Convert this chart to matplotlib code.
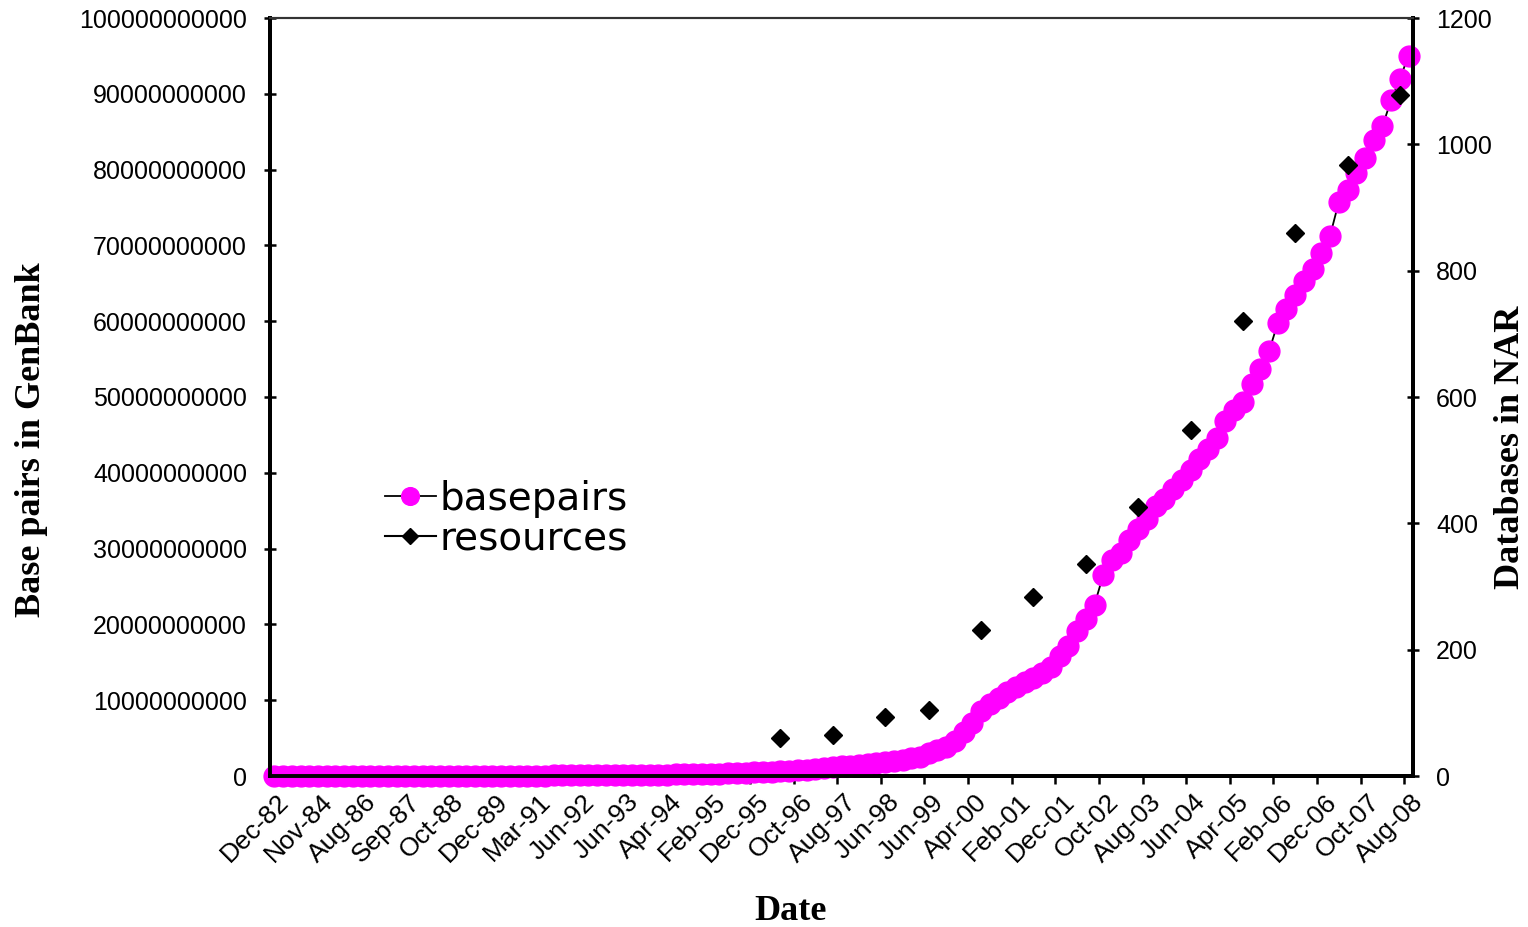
import matplotlib
matplotlib.use('Agg')
import matplotlib.pyplot as plt
import numpy as np
from matplotlib.ticker import FuncFormatter

# ---------------- data ----------------
tick_labels = ['Dec-82', 'Nov-84', 'Aug-86', 'Sep-87', 'Oct-88', 'Dec-89', 'Mar-91',
               'Jun-92', 'Jun-93', 'Apr-94', 'Feb-95', 'Dec-95', 'Oct-96', 'Aug-97',
               'Jun-98', 'Jun-99', 'Apr-00', 'Feb-01', 'Dec-01', 'Oct-02', 'Aug-03',
               'Jun-04', 'Apr-05', 'Feb-06', 'Dec-06', 'Oct-07', 'Aug-08']
label_every = 5  # one date label every 5 releases

# GenBank base pairs per release (billions), one value per release category
basepairs_billion = [
    0.00068, 0.00227, 0.00300, 0.00332, 0.00337, 0.00369, 0.00421, 0.00520, 0.00593, 0.00677,
    0.00844, 0.00962, 0.01096, 0.01305, 0.01486, 0.01551, 0.01675, 0.01916, 0.02080, 0.02202,
    0.02380, 0.02469, 0.02638, 0.03181, 0.03476, 0.03718, 0.04013, 0.04250, 0.04918, 0.05131,
    0.05517, 0.06587, 0.07195, 0.07734, 0.08389, 0.09216, 0.10101, 0.12024, 0.12621, 0.12997,
    0.13890, 0.14722, 0.15715, 0.16380, 0.18059, 0.19139, 0.20182, 0.21710, 0.23049, 0.24850,
    0.28609, 0.31862, 0.35371, 0.38494, 0.42586, 0.46376, 0.49913, 0.55175, 0.60207, 0.65197,
    0.73055, 0.84286, 0.96699, 1.05347, 1.16030, 1.25829, 1.37237, 1.43365, 1.56958, 1.70231,
    1.79714, 2.00876, 2.16207, 2.36570, 2.56958, 2.97545, 3.44000, 3.84116, 4.65393, 5.80541,
    7.00000, 8.60422, 9.54572, 10.33569, 11.10107, 11.72012, 12.41854, 12.97371, 13.54336, 14.39688,
    15.84992, 17.08914, 19.07268, 20.64875, 22.61694, 26.52593, 28.50799, 29.35808, 31.09926, 32.52825,
    33.86502, 35.59962, 36.55337, 37.89384, 38.98934, 40.32532, 41.80805, 43.19460, 44.57575, 46.84983,
    48.23574, 49.39885, 51.67449, 53.65524, 56.03773, 59.75039, 61.58214, 63.41261, 65.36909, 66.92594,
    69.01929, 71.29221, 75.74204, 77.24869, 79.52556, 81.56340, 83.87418, 85.75959, 89.17235, 92.00861,
    95.03379]

# NAR database counts (right axis), at the release categories where they occur
resource_idx = [58, 64, 70, 75, 81, 87, 93, 99, 105, 111, 117, 123, 129]
resource_counts = [60, 65, 93, 104, 231, 283, 336, 426, 548, 720, 860, 967, 1078]

# ---------------- figure ----------------
W, H = 1528, 927
fig = plt.figure(figsize=(W / 100, H / 100), dpi=100)
fig.patch.set_facecolor('white')
L, R, T, B = 270, 1413, 18, 776
ax = fig.add_axes([L / W, 1 - B / H, (R - L) / W, (B - T) / H])

n = len(basepairs_billion)
x = np.arange(n)
bp = np.array(basepairs_billion) * 1e9

ax.plot(x, bp, color='black', lw=1.3, marker='o', ms=15,
        mfc='#FF00FF', mec='#FF00FF', clip_on=False, zorder=3, label='basepairs')

ax.set_ylim(0, 1e11)
ax.set_yticks(np.arange(0, 1e11 + 1, 1e10))
ax.yaxis.set_major_formatter(FuncFormatter(lambda v, p: f'{int(round(v))}'))

tick_font = dict(family='Liberation Sans', size=18)
for lab in ax.get_yticklabels():
    lab.set_fontproperties(tick_font)
ax.tick_params(axis='y', which='major', direction='inout', length=9, width=1.8, pad=12)

# date labels: one per 5 release categories
label_pos = x[::label_every] + 0.3
ax.set_xticks(label_pos)
ax.set_xticklabels(tick_labels, rotation=45, ha='right', rotation_mode='anchor',
                   va='top', family='Liberation Sans', size=19)
ax.set_xticks(np.arange(-0.5, n - 1, label_every), minor=True)
ax.tick_params(axis='x', which='major', length=0, pad=10)
ax.tick_params(axis='x', which='minor', direction='out', length=6, width=1.8)
ax.set_xlim(-0.5, n - 0.5)

for s in ['left', 'bottom', 'right']:
    ax.spines[s].set_linewidth(2.8)
ax.spines['top'].set_linewidth(1.5)
ax.spines['top'].set_color('#333333')

ax2 = ax.twinx()
res = np.full(n, np.nan)
res[resource_idx] = resource_counts
ax2.plot(x, res, color='black', lw=1.5, marker='D', ms=9.5, mfc='black', mec='black',
         clip_on=False, zorder=4, label='resources')
ax2.set_ylim(0, 1200)
ax2.set_yticks(np.arange(0, 1201, 200))
ax2.tick_params(axis='y', direction='inout', length=9, width=1.8, pad=12)
for lab in ax2.get_yticklabels():
    lab.set_fontproperties(tick_font)
for s in ['left', 'bottom', 'right']:
    ax2.spines[s].set_linewidth(2.8)
ax2.spines['top'].set_linewidth(1.5)
ax2.spines['top'].set_color('#333333')
ax.set_xlim(-0.5, n - 0.5)

label_font = dict(family='Liberation Serif', weight='bold', size=26)
ax.set_ylabel('Base pairs in GenBank', ha='center', va='center', **label_font)
ax.yaxis.set_label_coords((32 - L) / (R - L), (B - 440) / (B - T))
ax2.set_ylabel('Databases in NAR', rotation=90, ha='center', va='center', **label_font)
ax2.yaxis.set_label_coords((1510 - L) / (R - L), (B - 447) / (B - T))
ax.set_xlabel('Date', ha='center', va='center', **label_font)
ax.xaxis.set_label_coords((790 - L) / (R - L), (B - 911) / (B - T))

h1, l1 = ax.get_legend_handles_labels()
h2, l2 = ax2.get_legend_handles_labels()
leg = ax2.legend(h1 + h2, l1 + l2, loc='upper left',
                 bbox_to_anchor=((385 - L) / (R - L), (B - 480) / (B - T)),
                 frameon=False, prop=dict(family='DejaVu Sans', size=28),
                 handlelength=1.3, handletextpad=0.1, labelspacing=0.05,
                 borderpad=0, borderaxespad=0, markerscale=0.85)

fig.savefig('out.png', dpi=100, facecolor='white')
